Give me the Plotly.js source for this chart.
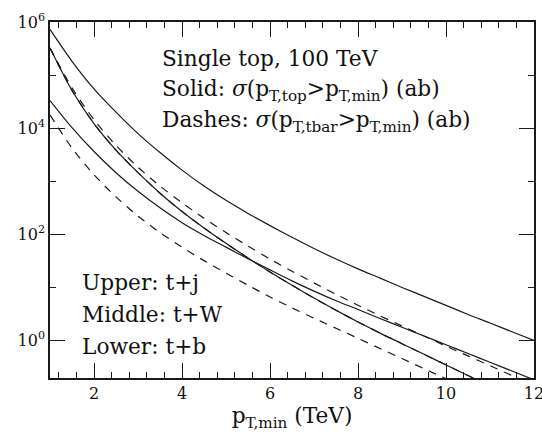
<!DOCTYPE html>
<html>
<head>
<meta charset="utf-8">
<script src="https://cdn.plot.ly/plotly-3.0.1.min.js"></script>
<style>html,body{margin:0;padding:0;background:#fff;}#chart{width:542px;height:434px;}</style>
</head>
<body>
<div id="chart"></div>
<script>
// p_T,min values (TeV)
const ptMin = [1, 1.5, 2, 2.5, 3, 3.5, 4, 4.5, 5, 5.5, 6, 6.5, 7, 7.5, 8, 8.5, 9, 9.5, 10, 10.5, 11, 11.5, 12];

// Solid: sigma(pT,top > pT,min) (ab)
const topJet = [7.24e5, 1.82e5, 5.5e4, 2.0e4, 7.9e3, 3.47e3, 1.62e3, 813, 437, 248, 146, 88, 54, 34.3, 22.4, 15.0, 10.0, 6.8, 4.6, 3.1, 2.14, 1.46, 1.0]; // upper: t+j
const topW   = [3.24e5, 5.13e4, 1.22e4, 3.85e3, 1.45e3, 596, 269, 132, 67.6, 35.9, 19.5, 11.0, 6.31, 3.72, 2.24, 1.38, 0.871, 0.55, 0.347, 0.219, 0.138]; // middle: t+W
const topB   = [3.31e4, 1.02e4, 3.63e3, 1.45e3, 646, 316, 166, 95.5, 57.5, 34.7, 21.4, 13.3, 8.51, 5.62, 3.85, 2.6, 1.78, 1.22, 0.832, 0.569, 0.389, 0.266, 0.182]; // lower: t+b

// Dashes: sigma(pT,tbar > pT,min) (ab)
const tbarJet = [3.24e5, 5.75e4, 1.45e4, 4.73e3, 1.84e3, 813, 394, 202, 108, 60.3, 34.3, 20.2, 12.2, 7.41, 4.62, 2.92, 1.88, 1.22, 0.785, 0.513, 0.335, 0.219, 0.143];
const tbarW   = [3.24e5, 5.13e4, 1.22e4, 3.85e3, 1.45e3, 596, 269, 132, 67.6, 35.9, 19.5, 11.0, 6.31, 3.72, 2.24, 1.38, 0.871, 0.55, 0.347, 0.219, 0.138];
const tbarB   = [1.78e4, 4.22e3, 1.33e3, 507, 221, 108, 57.5, 32.0, 18.6, 11.0, 6.61, 4.12, 2.63, 1.70, 1.10, 0.708, 0.457, 0.295, 0.191];

// tick labels
const xTickVals = [2, 4, 6, 8, 10, 12];
const xTickText = ['2', '4', '6', '8', '10', '12'];
const yTickVals = [1, 100, 1e4, 1e6];
const yTickText = ['10<sup>0</sup>', '10<sup>2</sup>', '10<sup>4</sup>', '10<sup>6</sup>'];
const yMinorVals = [10, 1000, 1e5];

const FONT = 'DejaVu Serif';
const LC = '#1a1a1a';
const TXT = 21.7;

function trace(y, dash) {
  return {x: ptMin.slice(0, y.length), y: y, mode: 'lines', type: 'scatter',
    line: {color: LC, width: 1.2, dash: dash, shape: 'spline', smoothing: 0.8},
    hoverinfo: 'skip', showlegend: false};
}

const data = [
  trace(topJet, 'solid'), trace(topW, 'solid'), trace(topB, 'solid'),
  trace(tbarJet, '8px,7px'), trace(tbarW, '8px,7px'), trace(tbarB, '8px,7px')
];

function axis(extra) {
  return Object.assign({
    showline: true, mirror: 'allticks', linecolor: LC, linewidth: 1.5,
    ticks: 'inside', ticklen: 15, tickwidth: 1.2, tickcolor: LC,
    showgrid: false, zeroline: false, ticklabeloverflow: 'allow',
    tickfont: {family: FONT, size: 16, color: '#111'}
  }, extra);
}

const layout = {
  width: 542, height: 434,
  margin: {l: 50, r: 8, t: 22, b: 56},
  font: {family: FONT, color: '#111'},
  xaxis: axis({
    range: [1, 12], tickmode: 'array', tickvals: xTickVals, ticktext: xTickText,
    minor: {dtick: 0.4, tick0: 0, ticks: 'inside', ticklen: 6, tickwidth: 1, tickcolor: LC},
    title: {text: 'p<sub>T,min</sub> (TeV)', font: {family: FONT, size: TXT, color: '#111'}, standoff: 6}
  }),
  yaxis: axis({
    type: 'log', range: [-0.706, 6], tickmode: 'array', tickvals: yTickVals, ticktext: yTickText,
    minor: {tickmode: 'array', tickvals: yMinorVals, ticks: 'inside', ticklen: 6, tickwidth: 1, tickcolor: LC}
  }),
  annotations: [
    {text: 'Single top, 100 TeV', x: 0.2273, y: 0.8967},
    {text: 'Solid: <i>σ</i>(p<sub>T,top</sub>&gt;p<sub>T,min</sub>) (ab)', x: 0.2273, y: 0.808},
    {text: 'Dashes: <i>σ</i>(p<sub>T,tbar</sub>&gt;p<sub>T,min</sub>) (ab)', x: 0.2273, y: 0.7205},
    {text: 'Upper: t+j', x: 0.062, y: 0.2693},
    {text: 'Middle: t+W', x: 0.062, y: 0.1792},
    {text: 'Lower: t+b', x: 0.062, y: 0.0892}
  ].map(a => Object.assign({xref: 'paper', yref: 'paper', xanchor: 'left', yanchor: 'middle',
    showarrow: false, font: {family: FONT, size: TXT, color: '#111'}}, a))
};

function draw() { Plotly.newPlot('chart', data, layout, {displayModeBar: false}); }
if (document.fonts && document.fonts.load) {
  document.fonts.load('16px "DejaVu Serif"').then(draw, draw);
} else { draw(); }
</script>
</body>
</html>
